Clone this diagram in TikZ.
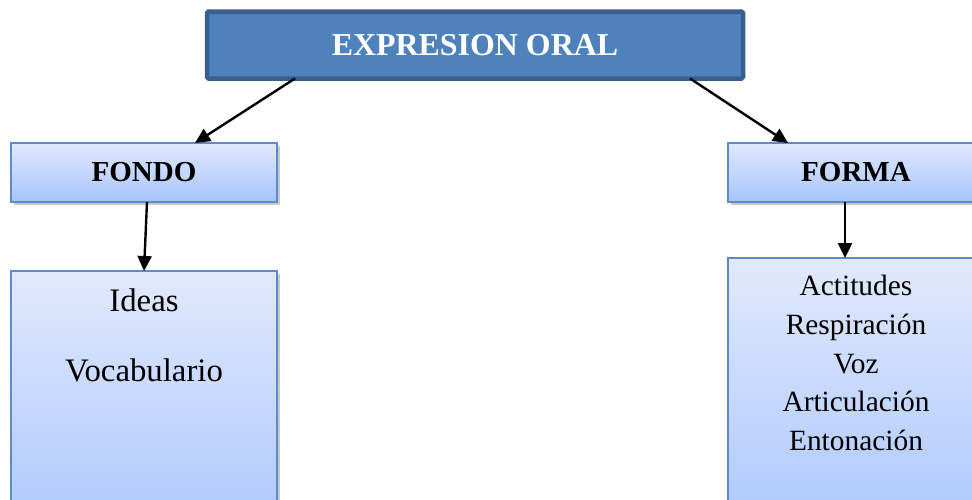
\documentclass[tikz,border=0pt]{standalone}
\usepackage{fontspec}
\setmainfont{Liberation Serif}
\usetikzlibrary{shadows,arrows.meta}
\definecolor{topfill}{HTML}{4F81BD}
\definecolor{topdraw}{HTML}{3A5F8E}
\definecolor{lightA}{HTML}{E1E9FC}
\definecolor{lightB}{HTML}{A7C4FE}
\definecolor{boxdraw}{HTML}{5E8BC8}
\tikzset{
  topbox/.style={draw=topdraw, line width=4.5pt, fill=topfill, rounded corners=1.5pt,
    inner sep=0pt, outer sep=0pt, text=white, font=\fontsize{31.9}{36}\selectfont\bfseries},
  lightbox/.style={draw=boxdraw, line width=1.6pt, top color=lightA, bottom color=lightB,
    inner sep=0pt, outer sep=0pt, font=\fontsize{29}{34}\selectfont\bfseries,
    drop shadow={opacity=0.35, shadow xshift=2.5pt, shadow yshift=-3pt, fill=black!60}},
  itemtext/.style={inner sep=0pt, align=center, font=\fontsize{29.4}{38.75}\selectfont},
  lefttext/.style={inner sep=0pt, align=center, font=\fontsize{32.8}{38}\selectfont},
  conn/.style={line width=2.4pt, -{Triangle[length=15pt,width=14pt]}}
}
\begin{document}
\begin{tikzpicture}[x=1pt,y=-1pt]
\useasboundingbox (0,0) rectangle (972,499);
\clip (0,0) rectangle (972,499);
% top box
\node[topbox, minimum width=536pt, minimum height=67pt] (top) at (475,45) {EXPRESION ORAL};
% FONDO / FORMA
\node[lightbox, minimum width=266pt, minimum height=59pt] (fondo) at (144,172.5) {FONDO};
\node[lightbox, minimum width=256pt, minimum height=59pt] (forma) at (856,172.5) {FORMA};
% lower boxes (extend past the bottom edge)
\node[lightbox, minimum width=266pt, minimum height=290pt] (fondobox) at (144,416) {};
\node[lightbox, minimum width=256pt, minimum height=300pt] (formabox) at (856,408) {};
% texts in lower boxes
\node[lefttext, anchor=base] (ideas) at (144,311) {Ideas};
\node[lefttext, anchor=base] (vocab) at (144,381) {Vocabulario};
\node[itemtext, anchor=north] (formlist) at (856,275)
  {Actitudes\\Respiración\\Voz\\Articulación\\Entonación};
% connectors
\draw[conn] ([xshift=88pt]top.south west) -- ([xshift=184pt]fondo.north west);
\draw[conn] ([xshift=-53pt]top.south east) -- ([xshift=60pt]forma.north west);
\draw[conn] ([xshift=3pt]fondo.south) -- (fondobox.north);
\draw[conn] ([xshift=-11pt]forma.south) -- ([xshift=-11pt]formabox.north);
\end{tikzpicture}
\end{document}
